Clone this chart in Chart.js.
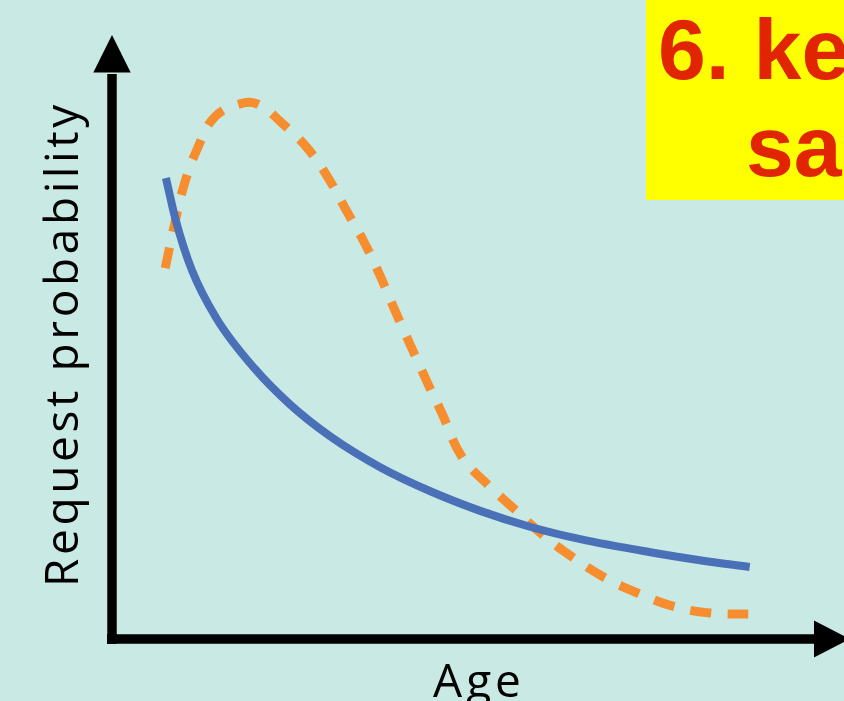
<!DOCTYPE html>
<html>
<head>
<meta charset="utf-8">
<style>
  html, body { margin: 0; padding: 0; background: #c9eae4; overflow: hidden; }
  #wrap { width: 844px; height: 701px; position: relative; }
  canvas { display: block; }
</style>
<script src="https://cdn.jsdelivr.net/npm/chart.js@4/dist/chart.umd.min.js"></script>
</head>
<body>
<div id="wrap"><canvas id="c" width="844" height="701"></canvas></div>
<script>
// Data (arbitrary units: age 0-100, probability 0-100)
const blueAge  = [7.7, 9.1, 11.4, 15.0, 20.3, 25.4, 31.1, 38.3, 45.4, 52.6, 59.7, 66.9, 76.9, 84.0, 91.1];
const blueProb = [81.3, 73.9, 65.1, 56.4, 47.8, 41.4, 35.8, 30.3, 26.1, 22.6, 19.8, 17.6, 15.3, 13.9, 12.7];

const orangeAge  = [7.6, 9.0, 10.3, 12.1, 14.7, 18.7, 21.1, 24.1, 27.9, 30.9, 33.6, 36.1, 38.4, 40.4, 45.1, 47.1, 50.0, 53.7, 57.6, 61.6, 65.7, 70.4, 75.1, 80.1, 85.4, 92.1];
const orangeProb = [65.4, 73.5, 80.1, 86.2, 92.1, 94.5, 94.2, 91.2, 86.6, 81.3, 75.3, 69.8, 63.8, 58.0, 45.1, 39.9, 32.1, 27.2, 22.8, 18.3, 14.5, 10.8, 8.1, 5.8, 4.6, 4.4];

const xTitle = 'Age';
const yTitle = 'Request probability';
const bannerLines = ['6. keep', 'same'];

const toPts = (xs, ys) => xs.map((x, i) => ({ x: x, y: ys[i] }));

const decor = {
  id: 'decor',
  beforeDraw(chart) {
    const ctx = chart.ctx;
    ctx.save();
    ctx.fillStyle = '#c9eae4';
    ctx.fillRect(0, 0, chart.width, chart.height);
    ctx.restore();
  },
  afterDraw(chart) {
    const ctx = chart.ctx;
    const a = chart.chartArea;
    ctx.save();
    // axes
    ctx.strokeStyle = '#000';
    ctx.fillStyle = '#000';
    ctx.lineWidth = 9.5;
    ctx.lineCap = 'butt';
    ctx.beginPath();
    ctx.moveTo(a.left, a.bottom + 5);
    ctx.lineTo(a.left, a.top + 2);
    ctx.stroke();
    ctx.beginPath();
    ctx.moveTo(a.left - 5, a.bottom);
    ctx.lineTo(a.right + 4, a.bottom);
    ctx.stroke();
    // arrow heads
    ctx.beginPath();
    ctx.moveTo(a.left, a.top - 37);
    ctx.lineTo(a.left - 18.7, a.top + 0.5);
    ctx.lineTo(a.left + 18.7, a.top + 0.5);
    ctx.closePath();
    ctx.fill();
    ctx.beginPath();
    ctx.moveTo(a.right + 38, a.bottom);
    ctx.lineTo(a.right + 2, a.bottom - 18.5);
    ctx.lineTo(a.right + 2, a.bottom + 18.5);
    ctx.closePath();
    ctx.fill();
    // axis titles
    ctx.font = '46px "Open Sans", "Noto Sans", sans-serif';
    ctx.textAlign = 'center';
    ctx.textBaseline = 'alphabetic';
    ctx.letterSpacing = '4px';
    ctx.fillText(xTitle, 479, 697);
    ctx.letterSpacing = '3.6px';
    ctx.save();
    ctx.translate(78, 344);
    ctx.rotate(-Math.PI / 2);
    ctx.fillText(yTitle, 0, 0);
    ctx.restore();
    ctx.letterSpacing = '0px';
    // banner
    ctx.fillStyle = '#ffff00';
    ctx.fillRect(646, 0, 260, 200);
    ctx.fillStyle = '#e02500';
    ctx.font = 'bold 86px "Liberation Sans", Arial, sans-serif';
    ctx.textAlign = 'left';
    ctx.fillText(bannerLines[0], 658, 79);
    ctx.fillText(bannerLines[1], 746, 176);
    ctx.restore();
  }
};

new Chart(document.getElementById('c'), {
  type: 'scatter',
  data: {
    datasets: [
      {
        data: toPts(blueAge, blueProb),
        showLine: true,
        borderColor: '#4a70b8',
        borderWidth: 8,
        pointRadius: 0,
        cubicInterpolationMode: 'monotone',
        borderCapStyle: 'butt'
      },
      {
        data: toPts(orangeAge, orangeProb),
        showLine: true,
        borderColor: '#f68d2e',
        borderWidth: 9,
        borderDash: [21, 16.5],
        pointRadius: 0,
        tension: 0.4,
        borderCapStyle: 'butt'
      }
    ]
  },
  options: {
    responsive: false,
    animation: false,
    devicePixelRatio: 1,
    layout: { padding: { left: 112, right: 32, top: 72, bottom: 62 } },
    plugins: { legend: { display: false }, tooltip: { enabled: false } },
    scales: {
      x: { type: 'linear', min: 0, max: 100, display: false },
      y: { type: 'linear', min: 0, max: 100, display: false }
    },
    elements: { line: { fill: false } },
    clip: false
  },
  plugins: [decor]
});
</script>
</body>
</html>
